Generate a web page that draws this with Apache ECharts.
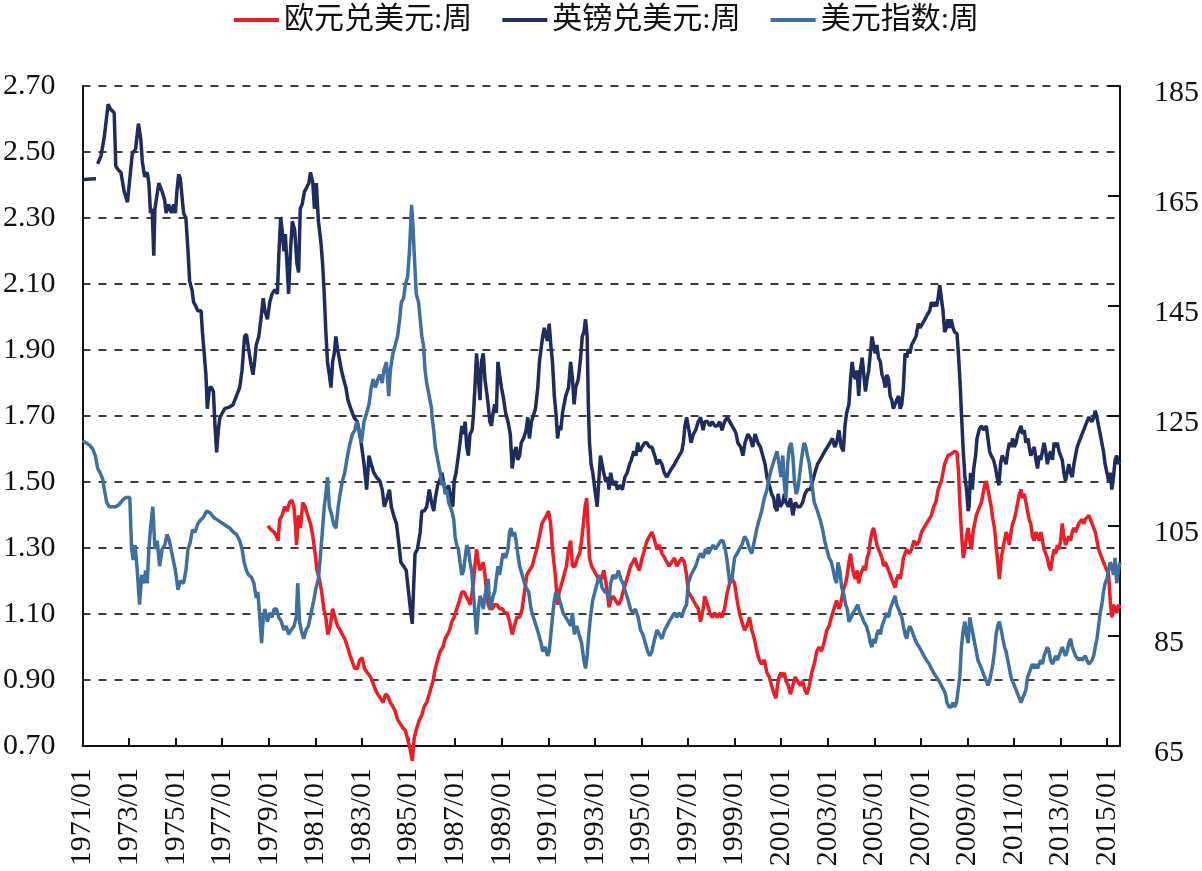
<!DOCTYPE html>
<html>
<head>
<meta charset="utf-8">
<title>欧元、英镑兑美元与美元指数</title>
<script src="https://cdn.jsdelivr.net/npm/echarts@6/dist/echarts.min.js"></script>
<style>
    html, body { margin: 0; padding: 0; background: #fff; }
    #chart { width: 1202px; height: 871px; }
</style>
</head>
<body>
<div id="chart"></div>
<script>
// 周度数据, 按图读取 [年份(小数), 数值]
const eurWeekly = [
    [1978.96,1.367],[1979.11,1.354],[1979.23,1.348],[1979.33,1.335],[1979.40,1.322],[1979.47,1.387],[1979.57,1.399],[1979.68,1.425],
    [1979.79,1.412],[1979.89,1.438],[1979.99,1.445],[1980.08,1.425],[1980.14,1.374],[1980.19,1.309],[1980.28,1.399],[1980.36,1.361],
    [1980.46,1.438],[1980.56,1.425],[1980.67,1.399],[1980.79,1.374],[1980.89,1.335],[1980.99,1.283],[1981.07,1.232],[1981.17,1.206],
    [1981.27,1.167],[1981.36,1.116],[1981.45,1.090],[1981.53,1.038],[1981.64,1.064],[1981.74,1.116],[1981.84,1.090],[1981.95,1.064],
    [1982.06,1.051],[1982.16,1.038],[1982.26,1.025],[1982.38,1.000],[1982.49,0.974],[1982.59,0.954],[1982.69,0.935],[1982.80,0.935],
    [1982.91,0.961],[1983.01,0.967],[1983.11,0.935],[1983.23,0.922],[1983.37,0.909],[1983.48,0.890],[1983.58,0.870],[1983.68,0.857],
    [1983.79,0.845],[1983.91,0.832],[1984.01,0.857],[1984.11,0.851],[1984.22,0.832],[1984.33,0.819],[1984.43,0.806],[1984.53,0.780],
    [1984.65,0.767],[1984.76,0.754],[1984.86,0.748],[1984.96,0.722],[1985.07,0.690],[1985.16,0.655],[1985.24,0.722],[1985.35,0.754],
    [1985.47,0.780],[1985.57,0.793],[1985.67,0.819],[1985.78,0.832],[1985.89,0.857],[1985.96,0.875],[1986.05,0.896],[1986.15,0.935],
    [1986.25,0.961],[1986.36,0.987],[1986.48,1.000],[1986.57,1.025],[1986.68,1.038],[1986.76,1.051],[1986.86,1.077],[1986.96,1.090],
    [1987.07,1.116],[1987.19,1.141],[1987.29,1.167],[1987.39,1.167],[1987.47,1.154],[1987.57,1.141],[1987.64,1.128],[1987.71,1.154],
    [1987.78,1.193],[1987.85,1.245],[1987.92,1.296],[1988.00,1.257],[1988.07,1.232],[1988.13,1.245],[1988.21,1.257],[1988.28,1.219],
    [1988.35,1.167],[1988.42,1.128],[1988.49,1.116],[1988.60,1.116],[1988.70,1.128],[1988.80,1.128],[1988.91,1.116],[1989.03,1.116],
    [1989.13,1.103],[1989.23,1.103],[1989.34,1.077],[1989.45,1.038],[1989.55,1.064],[1989.65,1.090],[1989.77,1.090],[1989.88,1.116],
    [1989.98,1.167],[1990.08,1.219],[1990.19,1.232],[1990.31,1.245],[1990.40,1.270],[1990.50,1.296],[1990.62,1.335],[1990.73,1.374],
    [1990.83,1.387],[1990.93,1.399],[1991.01,1.412],[1991.10,1.374],[1991.18,1.296],[1991.30,1.219],[1991.40,1.128],[1991.47,1.167],
    [1991.58,1.193],[1991.68,1.219],[1991.78,1.245],[1991.87,1.296],[1991.96,1.322],[1992.04,1.245],[1992.15,1.245],[1992.25,1.270],
    [1992.35,1.283],[1992.43,1.322],[1992.51,1.374],[1992.58,1.425],[1992.65,1.451],[1992.72,1.348],[1992.77,1.270],[1992.86,1.245],
    [1992.96,1.232],[1993.06,1.219],[1993.17,1.206],[1993.29,1.206],[1993.38,1.232],[1993.47,1.200],[1993.54,1.160],[1993.61,1.120],
    [1993.68,1.141],[1993.78,1.154],[1993.89,1.141],[1994.01,1.128],[1994.11,1.141],[1994.21,1.167],[1994.32,1.193],[1994.43,1.219],
    [1994.53,1.245],[1994.63,1.257],[1994.72,1.270],[1994.82,1.245],[1994.91,1.232],[1995.03,1.270],[1995.14,1.296],[1995.24,1.322],
    [1995.34,1.335],[1995.45,1.348],[1995.57,1.322],[1995.67,1.296],[1995.77,1.309],[1995.88,1.283],[1996.00,1.270],[1996.09,1.257],
    [1996.19,1.245],[1996.30,1.257],[1996.42,1.270],[1996.52,1.245],[1996.62,1.257],[1996.73,1.270],[1996.84,1.257],[1996.94,1.219],
    [1997.01,1.167],[1997.13,1.154],[1997.23,1.141],[1997.33,1.128],[1997.44,1.116],[1997.54,1.077],[1997.65,1.116],[1997.72,1.154],
    [1997.84,1.128],[1997.94,1.103],[1998.04,1.090],[1998.15,1.103],[1998.26,1.090],[1998.36,1.103],[1998.46,1.090],[1998.57,1.116],
    [1998.69,1.167],[1998.79,1.193],[1998.89,1.206],[1999.00,1.193],[1999.11,1.141],[1999.21,1.103],[1999.31,1.077],[1999.43,1.051],
    [1999.54,1.064],[1999.64,1.090],[1999.74,1.051],[1999.85,1.025],[1999.96,0.987],[2000.06,0.961],[2000.16,0.948],[2000.28,0.961],
    [2000.39,0.922],[2000.49,0.909],[2000.59,0.883],[2000.70,0.857],[2000.78,0.845],[2000.84,0.883],[2000.91,0.909],[2000.99,0.922],
    [2001.07,0.909],[2001.14,0.922],[2001.21,0.896],[2001.31,0.883],[2001.40,0.857],[2001.50,0.883],[2001.60,0.909],[2001.71,0.896],
    [2001.82,0.883],[2001.92,0.896],[2002.02,0.870],[2002.11,0.857],[2002.21,0.883],[2002.31,0.922],[2002.42,0.948],[2002.53,0.987],
    [2002.63,1.000],[2002.73,0.987],[2002.84,1.012],[2002.96,1.051],[2003.06,1.064],[2003.16,1.090],[2003.27,1.116],[2003.38,1.141],
    [2003.48,1.116],[2003.55,1.128],[2003.62,1.154],[2003.70,1.180],[2003.77,1.193],[2003.84,1.219],[2003.91,1.257],[2003.98,1.283],
    [2004.05,1.245],[2004.12,1.219],[2004.19,1.206],[2004.26,1.232],[2004.33,1.193],[2004.40,1.219],[2004.48,1.232],[2004.55,1.245],
    [2004.62,1.232],[2004.69,1.270],[2004.76,1.283],[2004.83,1.322],[2004.90,1.348],[2004.97,1.361],[2005.04,1.335],[2005.11,1.309],
    [2005.18,1.296],[2005.26,1.283],[2005.33,1.270],[2005.40,1.245],[2005.47,1.257],[2005.54,1.245],[2005.61,1.232],[2005.68,1.219],
    [2005.75,1.206],[2005.82,1.193],[2005.89,1.180],[2005.96,1.206],[2006.04,1.219],[2006.11,1.206],[2006.18,1.232],[2006.25,1.270],
    [2006.32,1.283],[2006.39,1.296],[2006.50,1.283],[2006.60,1.296],[2006.70,1.322],[2006.82,1.309],[2006.93,1.322],[2007.03,1.348],
    [2007.13,1.361],[2007.24,1.374],[2007.36,1.387],[2007.45,1.399],[2007.55,1.425],[2007.64,1.438],[2007.74,1.477],[2007.81,1.477],
    [2007.88,1.503],[2007.95,1.528],[2008.02,1.554],[2008.09,1.567],[2008.16,1.580],[2008.30,1.585],[2008.45,1.593],[2008.55,1.590],
    [2008.62,1.528],[2008.67,1.438],[2008.74,1.348],[2008.82,1.270],[2008.89,1.296],[2008.96,1.335],[2009.03,1.361],[2009.10,1.322],
    [2009.17,1.296],[2009.24,1.348],[2009.31,1.374],[2009.38,1.399],[2009.45,1.412],[2009.52,1.425],[2009.60,1.438],[2009.67,1.464],
    [2009.74,1.490],[2009.81,1.503],[2009.88,1.477],[2009.95,1.451],[2010.02,1.425],[2010.09,1.387],[2010.16,1.361],[2010.23,1.309],
    [2010.30,1.257],[2010.37,1.206],[2010.45,1.270],[2010.52,1.296],[2010.59,1.322],[2010.66,1.348],[2010.73,1.335],[2010.80,1.309],
    [2010.87,1.348],[2010.94,1.374],[2011.01,1.387],[2011.09,1.412],[2011.16,1.438],[2011.23,1.464],[2011.30,1.477],[2011.37,1.451],
    [2011.44,1.464],[2011.51,1.438],[2011.58,1.412],[2011.65,1.387],[2011.72,1.374],[2011.79,1.335],[2011.87,1.322],[2011.94,1.348],
    [2012.01,1.335],[2012.08,1.322],[2012.15,1.348],[2012.22,1.322],[2012.29,1.296],[2012.36,1.283],[2012.43,1.270],[2012.50,1.245],
    [2012.57,1.232],[2012.65,1.270],[2012.72,1.296],[2012.79,1.283],[2012.86,1.309],[2012.93,1.296],[2013.00,1.322],[2013.07,1.374],
    [2013.14,1.335],[2013.21,1.309],[2013.28,1.322],[2013.35,1.335],[2013.43,1.322],[2013.50,1.348],[2013.57,1.361],[2013.64,1.348],
    [2013.71,1.361],[2013.78,1.374],[2013.85,1.374],[2013.92,1.387],[2013.99,1.374],[2014.06,1.387],[2014.13,1.393],[2014.21,1.399],
    [2014.28,1.387],[2014.35,1.374],[2014.42,1.361],[2014.49,1.348],[2014.56,1.322],[2014.63,1.296],[2014.70,1.283],[2014.77,1.270],
    [2014.84,1.257],[2014.91,1.245],[2014.99,1.232],[2015.06,1.219],[2015.13,1.141],[2015.20,1.090],[2015.27,1.128],[2015.34,1.116],
    [2015.41,1.103],[2015.48,1.128],[2015.55,1.116]
];

const gbpWeekly = [
    [1971.00,2.416],[1971.30,2.418],[1971.58,2.419],[1971.62,null],[1971.65,2.464],[1971.80,2.490],[1971.94,2.548],[1972.10,2.645],
    [1972.20,2.630],[1972.36,2.619],[1972.43,2.457],[1972.55,2.445],[1972.65,2.438],[1972.79,2.380],[1972.93,2.348],[1973.00,2.354],
    [1973.14,2.496],[1973.28,2.509],[1973.40,2.586],[1973.50,2.541],[1973.57,2.470],[1973.67,2.425],[1973.78,2.438],[1973.85,2.406],
    [1973.92,2.315],[1973.99,2.328],[1974.06,2.186],[1974.11,2.328],[1974.16,2.328],[1974.28,2.406],[1974.35,2.393],[1974.42,2.380],
    [1974.53,2.354],[1974.59,2.315],[1974.70,2.341],[1974.82,2.315],[1974.91,2.341],[1974.99,2.315],[1975.06,2.386],[1975.13,2.432],
    [1975.20,2.419],[1975.27,2.367],[1975.34,2.315],[1975.44,2.300],[1975.53,2.200],[1975.60,2.109],[1975.70,2.083],[1975.77,2.045],
    [1975.87,2.032],[1975.95,2.019],[1976.09,2.019],[1976.15,1.954],[1976.24,1.877],[1976.30,1.825],[1976.36,1.722],[1976.45,1.786],
    [1976.55,1.786],[1976.62,1.774],[1976.69,1.670],[1976.76,1.590],[1976.83,1.657],[1976.90,1.696],[1977.00,1.709],[1977.11,1.722],
    [1977.33,1.728],[1977.47,1.735],[1977.61,1.761],[1977.75,1.786],[1977.85,1.838],[1977.96,1.941],[1978.04,1.948],[1978.13,1.903],
    [1978.22,1.864],[1978.32,1.825],[1978.39,1.864],[1978.46,1.915],[1978.57,1.941],[1978.66,1.993],[1978.76,2.057],[1978.83,2.019],
    [1978.94,1.993],[1979.04,2.045],[1979.14,2.070],[1979.26,2.083],[1979.37,2.070],[1979.43,2.186],[1979.51,2.303],[1979.57,2.264],
    [1979.65,2.199],[1979.71,2.251],[1979.77,2.174],[1979.85,2.070],[1979.94,2.212],[1980.01,2.290],[1980.11,2.264],[1980.21,2.161],
    [1980.28,2.135],[1980.35,2.328],[1980.43,2.341],[1980.53,2.380],[1980.63,2.393],[1980.72,2.406],[1980.79,2.438],[1980.89,2.406],
    [1980.96,2.328],[1981.04,2.406],[1981.13,2.290],[1981.24,2.225],[1981.31,2.161],[1981.38,2.070],[1981.45,1.954],[1981.52,1.864],
    [1981.60,1.825],[1981.67,1.786],[1981.74,1.864],[1981.81,1.890],[1981.88,1.941],[1981.95,1.903],[1982.02,1.877],[1982.12,1.838],
    [1982.21,1.812],[1982.31,1.786],[1982.40,1.748],[1982.52,1.722],[1982.66,1.696],[1982.80,1.683],[1982.94,1.632],[1983.09,1.554],
    [1983.20,1.477],[1983.30,1.580],[1983.40,1.554],[1983.51,1.528],[1983.62,1.515],[1983.77,1.503],[1983.87,1.477],[1983.96,1.425],
    [1984.08,1.451],[1984.18,1.477],[1984.26,1.425],[1984.36,1.399],[1984.48,1.374],[1984.57,1.322],[1984.67,1.257],[1984.79,1.245],
    [1984.90,1.232],[1985.00,1.167],[1985.10,1.103],[1985.16,1.070],[1985.21,1.167],[1985.28,1.283],[1985.38,1.296],[1985.50,1.348],
    [1985.57,1.412],[1985.67,1.412],[1985.78,1.425],[1985.89,1.477],[1985.99,1.438],[1986.08,1.412],[1986.15,1.451],[1986.25,1.490],
    [1986.33,1.503],[1986.43,1.528],[1986.53,1.490],[1986.62,1.464],[1986.72,1.490],[1986.82,1.451],[1986.90,1.425],[1986.96,1.503],
    [1987.04,1.528],[1987.14,1.580],[1987.21,1.619],[1987.29,1.670],[1987.36,1.645],[1987.43,1.683],[1987.50,1.606],[1987.57,1.580],
    [1987.64,1.645],[1987.73,1.657],[1987.78,1.696],[1987.85,1.786],[1987.92,1.890],[1988.00,1.812],[1988.07,1.748],[1988.13,1.864],
    [1988.21,1.890],[1988.28,1.812],[1988.35,1.774],[1988.42,1.735],[1988.49,1.683],[1988.56,1.670],[1988.63,1.709],[1988.70,1.735],
    [1988.77,1.709],[1988.84,1.864],[1988.91,1.825],[1988.99,1.786],[1989.06,1.761],[1989.17,1.709],[1989.27,1.683],[1989.37,1.645],
    [1989.45,1.541],[1989.55,1.593],[1989.62,1.606],[1989.69,1.567],[1989.77,1.580],[1989.84,1.619],[1989.94,1.632],[1990.05,1.657],
    [1990.12,1.696],[1990.19,1.632],[1990.28,1.683],[1990.36,1.683],[1990.45,1.722],[1990.55,1.786],[1990.62,1.864],[1990.69,1.903],
    [1990.76,1.941],[1990.83,1.967],[1990.90,1.941],[1990.97,1.928],[1991.04,1.980],[1991.11,1.915],[1991.18,1.864],[1991.26,1.761],
    [1991.33,1.709],[1991.40,1.632],[1991.47,1.670],[1991.54,1.657],[1991.61,1.709],[1991.68,1.735],[1991.75,1.761],[1991.87,1.786],
    [1991.96,1.864],[1992.04,1.812],[1992.11,1.735],[1992.18,1.786],[1992.29,1.812],[1992.39,1.877],[1992.46,1.941],[1992.53,1.954],
    [1992.60,1.993],[1992.67,1.941],[1992.72,1.735],[1992.77,1.619],[1992.84,1.554],[1992.91,1.528],[1993.00,1.477],[1993.10,1.425],
    [1993.17,1.503],[1993.24,1.580],[1993.31,1.554],[1993.38,1.528],[1993.47,1.500],[1993.54,1.515],[1993.61,1.477],[1993.68,1.528],
    [1993.78,1.490],[1993.87,1.503],[1993.97,1.477],[1994.06,1.490],[1994.18,1.477],[1994.29,1.515],[1994.39,1.528],[1994.49,1.554],
    [1994.57,1.567],[1994.67,1.593],[1994.77,1.580],[1994.84,1.619],[1994.93,1.593],[1995.03,1.606],[1995.14,1.619],[1995.24,1.619],
    [1995.34,1.606],[1995.45,1.606],[1995.57,1.580],[1995.67,1.554],[1995.77,1.567],[1995.88,1.554],[1995.98,1.528],[1996.09,1.515],
    [1996.19,1.528],[1996.30,1.541],[1996.42,1.554],[1996.52,1.567],[1996.62,1.580],[1996.73,1.593],[1996.80,1.619],[1996.87,1.670],
    [1996.94,1.696],[1997.04,1.657],[1997.13,1.619],[1997.23,1.645],[1997.33,1.657],[1997.44,1.683],[1997.54,1.696],[1997.65,1.657],
    [1997.72,1.683],[1997.84,1.683],[1997.94,1.670],[1998.04,1.683],[1998.15,1.670],[1998.26,1.670],[1998.36,1.683],[1998.46,1.657],
    [1998.57,1.683],[1998.69,1.696],[1998.79,1.683],[1998.89,1.670],[1999.00,1.657],[1999.07,1.645],[1999.14,1.619],[1999.26,1.606],
    [1999.36,1.580],[1999.45,1.619],[1999.57,1.645],[1999.68,1.632],[1999.78,1.606],[1999.88,1.645],[2000.00,1.619],[2000.11,1.606],
    [2000.21,1.580],[2000.31,1.554],[2000.39,1.515],[2000.49,1.490],[2000.59,1.464],[2000.68,1.451],[2000.73,1.425],[2000.82,1.412],
    [2000.87,1.464],[2000.96,1.425],[2001.07,1.438],[2001.14,1.464],[2001.21,1.438],[2001.31,1.425],[2001.40,1.451],[2001.50,1.399],
    [2001.60,1.438],[2001.71,1.425],[2001.82,1.425],[2001.92,1.438],[2002.02,1.464],[2002.13,1.477],[2002.25,1.477],[2002.35,1.503],
    [2002.45,1.528],[2002.56,1.554],[2002.67,1.567],[2002.77,1.580],[2002.87,1.593],[2002.99,1.606],[2003.10,1.619],[2003.20,1.632],
    [2003.30,1.606],[2003.38,1.619],[2003.48,1.657],[2003.58,1.606],[2003.67,1.593],[2003.74,1.670],[2003.81,1.709],[2003.91,1.735],
    [2003.98,1.812],[2004.05,1.864],[2004.12,1.825],[2004.19,1.812],[2004.26,1.838],[2004.33,1.761],[2004.40,1.838],[2004.48,1.877],
    [2004.55,1.825],[2004.62,1.774],[2004.69,1.812],[2004.76,1.838],[2004.83,1.890],[2004.90,1.941],[2004.97,1.915],[2005.04,1.890],
    [2005.11,1.915],[2005.18,1.877],[2005.26,1.864],[2005.33,1.825],[2005.40,1.812],[2005.47,1.786],[2005.54,1.825],[2005.61,1.812],
    [2005.68,1.761],[2005.75,1.748],[2005.82,1.722],[2005.89,1.735],[2005.96,1.748],[2006.04,1.761],[2006.11,1.722],[2006.18,1.735],
    [2006.25,1.786],[2006.32,1.890],[2006.39,1.877],[2006.46,1.903],[2006.53,1.890],[2006.60,1.915],[2006.67,1.915],[2006.79,1.941],
    [2006.89,1.980],[2006.96,1.967],[2007.07,1.980],[2007.17,1.993],[2007.27,2.006],[2007.38,2.019],[2007.45,2.045],[2007.52,2.032],
    [2007.60,2.045],[2007.67,2.032],[2007.74,2.057],[2007.81,2.096],[2007.88,2.057],[2007.95,2.019],[2008.02,1.954],[2008.09,1.967],
    [2008.16,1.993],[2008.23,1.967],[2008.30,1.993],[2008.38,1.967],[2008.45,1.954],[2008.55,1.950],[2008.62,1.880],[2008.69,1.790],
    [2008.74,1.709],[2008.82,1.593],[2008.89,1.515],[2008.96,1.477],[2009.03,1.412],[2009.07,1.425],[2009.13,1.528],[2009.21,1.477],
    [2009.27,1.541],[2009.35,1.580],[2009.41,1.632],[2009.50,1.657],[2009.60,1.670],[2009.70,1.657],[2009.81,1.670],[2009.88,1.632],
    [2009.95,1.593],[2010.02,1.580],[2010.12,1.567],[2010.21,1.541],[2010.27,1.515],[2010.35,1.490],[2010.42,1.554],[2010.49,1.580],
    [2010.59,1.567],[2010.66,1.554],[2010.73,1.593],[2010.80,1.619],[2010.87,1.606],[2010.94,1.632],[2011.01,1.606],[2011.09,1.619],
    [2011.16,1.645],[2011.23,1.657],[2011.30,1.670],[2011.37,1.645],[2011.44,1.657],[2011.51,1.619],[2011.60,1.632],[2011.65,1.606],
    [2011.72,1.580],[2011.79,1.593],[2011.87,1.606],[2011.94,1.567],[2012.01,1.541],[2012.08,1.580],[2012.15,1.567],[2012.22,1.593],
    [2012.29,1.619],[2012.36,1.593],[2012.43,1.554],[2012.50,1.580],[2012.57,1.593],[2012.65,1.567],[2012.72,1.619],[2012.79,1.606],
    [2012.86,1.619],[2012.93,1.593],[2013.00,1.580],[2013.07,1.567],[2013.14,1.528],[2013.21,1.503],[2013.28,1.528],[2013.35,1.554],
    [2013.43,1.528],[2013.50,1.515],[2013.57,1.554],[2013.64,1.580],[2013.71,1.606],[2013.78,1.619],[2013.85,1.632],[2013.92,1.645],
    [2013.99,1.657],[2014.06,1.670],[2014.13,1.683],[2014.21,1.696],[2014.35,1.683],[2014.42,1.696],[2014.49,1.716],[2014.56,1.696],
    [2014.63,1.670],[2014.70,1.645],[2014.77,1.619],[2014.84,1.593],[2014.91,1.554],[2014.99,1.528],[2015.06,1.503],[2015.13,1.528],
    [2015.20,1.477],[2015.27,1.515],[2015.34,1.567],[2015.41,1.580],[2015.48,1.554],[2015.55,1.567]
];

const dxyWeekly = [
    [1971.00,120.5],[1971.16,120.1],[1971.30,119.7],[1971.44,119.0],[1971.55,117.8],[1971.65,115.5],[1971.75,114.7],[1971.87,113.5],
    [1971.94,111.6],[1972.04,109.3],[1972.15,108.5],[1972.29,108.5],[1972.43,108.5],[1972.57,108.9],[1972.72,109.7],[1972.86,110.2],
    [1973.03,110.2],[1973.11,100.8],[1973.18,98.8],[1973.26,101.5],[1973.35,96.9],[1973.45,90.7],[1973.54,96.1],[1973.64,94.6],
    [1973.71,96.9],[1973.78,94.6],[1973.85,100.8],[1973.92,104.6],[1974.02,108.5],[1974.11,100.8],[1974.21,102.3],[1974.31,97.7],
    [1974.42,100.8],[1974.53,101.5],[1974.63,103.5],[1974.73,102.3],[1974.84,100.0],[1974.99,96.9],[1975.10,93.4],[1975.20,95.0],
    [1975.34,94.6],[1975.44,96.9],[1975.53,100.8],[1975.62,101.9],[1975.72,104.3],[1975.84,103.9],[1975.95,105.4],[1976.09,106.2],
    [1976.19,106.6],[1976.33,107.7],[1976.48,107.4],[1976.62,106.6],[1976.76,106.2],[1976.90,105.8],[1977.04,105.4],[1977.18,105.0],
    [1977.33,104.6],[1977.47,103.9],[1977.61,103.5],[1977.75,102.3],[1977.85,100.8],[1977.94,98.4],[1978.04,96.9],[1978.13,96.1],
    [1978.25,95.7],[1978.36,94.6],[1978.46,91.9],[1978.53,93.0],[1978.60,89.2],[1978.69,83.7],[1978.76,88.4],[1978.83,89.9],
    [1978.94,87.6],[1979.04,89.2],[1979.14,88.4],[1979.23,89.9],[1979.33,89.9],[1979.43,88.4],[1979.54,87.6],[1979.65,86.1],
    [1979.75,86.8],[1979.85,85.3],[1979.96,86.1],[1980.08,86.8],[1980.18,88.4],[1980.24,94.6],[1980.32,87.6],[1980.39,86.1],
    [1980.50,84.5],[1980.60,86.1],[1980.70,86.8],[1980.82,89.2],[1980.93,91.5],[1981.03,93.8],[1981.13,95.4],[1981.24,100.8],
    [1981.31,104.6],[1981.38,108.5],[1981.45,110.8],[1981.52,113.9],[1981.60,108.5],[1981.70,107.0],[1981.78,105.4],[1981.88,104.6],
    [1981.98,108.5],[1982.06,110.8],[1982.16,113.2],[1982.26,114.7],[1982.38,117.8],[1982.49,120.1],[1982.59,121.7],[1982.69,122.4],
    [1982.78,124.0],[1982.87,122.4],[1982.97,120.1],[1983.09,124.0],[1983.20,125.5],[1983.30,127.1],[1983.40,130.2],[1983.48,131.7],
    [1983.58,130.2],[1983.68,131.7],[1983.77,132.5],[1983.87,131.0],[1983.94,133.3],[1984.05,134.8],[1984.15,128.6],[1984.22,133.3],
    [1984.33,136.4],[1984.43,137.9],[1984.53,139.5],[1984.62,142.6],[1984.69,145.7],[1984.79,146.4],[1984.86,148.8],[1984.96,150.3],
    [1985.04,155.0],[1985.13,163.4],[1985.19,159.6],[1985.24,155.0],[1985.33,147.2],[1985.43,145.7],[1985.50,142.6],[1985.57,139.5],
    [1985.64,137.9],[1985.71,133.3],[1985.78,131.0],[1985.89,128.6],[1985.99,126.3],[1986.01,124.8],[1986.08,122.4],[1986.15,119.3],
    [1986.22,117.8],[1986.29,116.2],[1986.36,114.7],[1986.43,112.4],[1986.50,113.2],[1986.57,110.8],[1986.65,111.6],[1986.72,109.3],
    [1986.79,108.5],[1986.86,107.7],[1986.94,106.2],[1987.00,103.1],[1987.07,101.5],[1987.14,100.8],[1987.21,98.4],[1987.29,96.1],
    [1987.36,96.9],[1987.43,99.2],[1987.50,101.5],[1987.57,100.8],[1987.64,98.4],[1987.71,96.9],[1987.78,93.0],[1987.85,89.2],
    [1987.92,85.3],[1988.00,89.9],[1988.07,92.3],[1988.13,91.5],[1988.21,89.9],[1988.28,92.3],[1988.35,93.8],[1988.42,95.4],
    [1988.49,89.9],[1988.56,90.7],[1988.63,92.3],[1988.70,93.0],[1988.77,95.4],[1988.84,97.7],[1988.91,96.1],[1988.99,98.4],
    [1989.06,100.0],[1989.17,99.2],[1989.27,100.8],[1989.34,103.9],[1989.40,104.6],[1989.48,103.1],[1989.55,103.9],[1989.62,102.3],
    [1989.69,100.0],[1989.77,97.7],[1989.88,96.1],[1989.98,94.6],[1990.05,93.8],[1990.16,93.0],[1990.26,89.9],[1990.36,88.4],
    [1990.48,86.8],[1990.59,85.3],[1990.69,83.7],[1990.76,82.2],[1990.87,83.0],[1990.97,81.4],[1991.04,82.2],[1991.11,85.3],
    [1991.18,88.4],[1991.26,91.5],[1991.33,93.0],[1991.43,92.3],[1991.54,90.7],[1991.64,89.2],[1991.75,88.4],[1991.87,87.6],
    [1991.96,86.8],[1992.04,89.2],[1992.12,85.3],[1992.22,86.8],[1992.32,85.3],[1992.43,83.7],[1992.53,80.6],[1992.60,79.1],
    [1992.67,81.4],[1992.74,85.3],[1992.81,88.4],[1992.91,91.5],[1993.00,93.0],[1993.10,94.6],[1993.20,96.1],[1993.31,93.8],
    [1993.43,93.0],[1993.54,93.0],[1993.61,91.5],[1993.68,94.6],[1993.78,96.1],[1993.89,95.4],[1994.01,96.9],[1994.11,95.4],
    [1994.21,94.6],[1994.32,93.0],[1994.43,91.5],[1994.53,89.9],[1994.63,89.2],[1994.74,89.9],[1994.86,88.4],[1994.96,86.1],
    [1995.06,85.3],[1995.17,83.7],[1995.27,82.2],[1995.36,81.4],[1995.45,82.2],[1995.57,84.5],[1995.67,86.1],[1995.77,85.3],
    [1995.88,84.5],[1996.00,86.1],[1996.09,86.8],[1996.19,87.6],[1996.30,88.4],[1996.42,89.2],[1996.52,88.4],[1996.62,89.2],
    [1996.73,88.4],[1996.84,89.9],[1996.94,90.7],[1997.01,94.6],[1997.13,96.1],[1997.23,96.9],[1997.33,97.7],[1997.44,99.2],
    [1997.54,100.0],[1997.65,99.2],[1997.75,100.8],[1997.87,100.0],[1997.98,100.8],[1998.08,101.5],[1998.18,100.8],[1998.29,101.5],
    [1998.40,102.3],[1998.50,102.3],[1998.60,100.8],[1998.69,98.4],[1998.79,94.6],[1998.89,95.4],[1999.00,99.2],[1999.11,100.0],
    [1999.21,100.8],[1999.31,101.5],[1999.43,103.1],[1999.54,102.3],[1999.64,100.8],[1999.74,100.0],[1999.85,102.3],[1999.96,104.6],
    [2000.06,106.2],[2000.16,107.7],[2000.28,110.1],[2000.39,111.6],[2000.49,113.9],[2000.59,115.5],[2000.70,117.0],[2000.82,118.6],
    [2000.91,116.3],[2000.99,113.9],[2001.07,117.8],[2001.14,112.4],[2001.21,110.1],[2001.28,116.3],[2001.35,119.3],[2001.43,120.1],
    [2001.50,117.8],[2001.57,113.2],[2001.64,110.8],[2001.71,111.6],[2001.78,113.9],[2001.85,116.3],[2001.92,118.6],[2001.99,120.1],
    [2002.06,119.3],[2002.13,117.8],[2002.21,116.3],[2002.28,113.9],[2002.35,111.6],[2002.42,109.3],[2002.49,108.5],[2002.56,107.7],
    [2002.67,106.2],[2002.77,104.6],[2002.87,102.3],[2002.96,100.8],[2003.06,99.2],[2003.16,98.4],[2003.24,96.9],[2003.31,95.4],
    [2003.38,94.6],[2003.44,98.4],[2003.52,96.9],[2003.60,93.8],[2003.67,93.0],[2003.77,90.7],[2003.84,89.9],[2003.91,87.6],
    [2004.01,88.4],[2004.09,89.2],[2004.19,89.9],[2004.29,90.7],[2004.38,89.2],[2004.48,88.4],[2004.55,87.6],[2004.66,86.8],
    [2004.76,85.3],[2004.83,83.7],[2004.90,83.0],[2004.97,84.5],[2005.04,83.7],[2005.11,85.3],[2005.18,86.1],[2005.26,85.3],
    [2005.33,86.8],[2005.40,87.6],[2005.47,88.4],[2005.54,89.2],[2005.61,88.4],[2005.68,89.9],[2005.75,90.7],[2005.82,91.5],
    [2005.89,92.3],[2005.96,90.7],[2006.04,89.9],[2006.11,89.2],[2006.18,88.4],[2006.25,86.8],[2006.32,85.3],[2006.39,84.5],
    [2006.46,86.1],[2006.53,86.8],[2006.60,86.1],[2006.67,85.3],[2006.74,84.5],[2006.82,83.7],[2006.93,83.0],[2007.03,82.2],
    [2007.13,81.4],[2007.24,80.6],[2007.36,79.9],[2007.45,79.1],[2007.55,78.3],[2007.67,77.5],[2007.78,76.8],[2007.88,76.0],
    [2007.98,75.2],[2008.06,74.4],[2008.12,72.9],[2008.21,72.1],[2008.30,72.1],[2008.38,72.9],[2008.45,72.1],[2008.53,72.9],
    [2008.60,75.2],[2008.67,77.5],[2008.74,83.0],[2008.82,86.1],[2008.89,87.6],[2008.96,85.3],[2009.03,83.7],[2009.10,88.4],
    [2009.17,86.8],[2009.24,85.3],[2009.31,83.7],[2009.38,82.2],[2009.45,80.6],[2009.52,79.9],[2009.60,79.1],[2009.67,78.3],
    [2009.74,77.5],[2009.81,76.8],[2009.88,76.0],[2009.95,76.8],[2010.02,78.3],[2010.09,79.9],[2010.16,82.2],[2010.23,85.3],
    [2010.30,86.8],[2010.37,87.6],[2010.45,86.1],[2010.52,84.5],[2010.59,83.0],[2010.66,82.2],[2010.73,80.6],[2010.80,79.1],
    [2010.87,77.5],[2010.94,76.8],[2011.01,76.0],[2011.09,75.2],[2011.16,74.4],[2011.23,73.7],[2011.30,72.9],[2011.37,73.7],
    [2011.44,74.4],[2011.51,75.2],[2011.58,77.5],[2011.65,78.3],[2011.72,79.1],[2011.79,79.9],[2011.87,79.1],[2011.94,79.9],
    [2012.01,79.1],[2012.08,79.9],[2012.15,80.6],[2012.22,79.9],[2012.29,81.4],[2012.36,82.2],[2012.43,83.0],[2012.50,82.2],
    [2012.57,80.6],[2012.65,79.9],[2012.72,80.6],[2012.79,81.4],[2012.86,80.6],[2012.93,81.4],[2013.00,82.2],[2013.07,83.0],
    [2013.14,82.2],[2013.21,81.4],[2013.28,82.2],[2013.35,83.7],[2013.43,84.5],[2013.50,83.0],[2013.57,82.2],[2013.64,81.4],
    [2013.71,81.4],[2013.78,80.6],[2013.85,81.0],[2013.92,80.6],[2013.99,80.6],[2014.06,81.4],[2014.13,80.6],[2014.21,79.9],
    [2014.28,79.9],[2014.35,80.6],[2014.42,81.4],[2014.49,83.0],[2014.56,84.5],[2014.63,86.8],[2014.70,89.2],[2014.77,90.7],
    [2014.84,93.0],[2014.91,94.6],[2014.99,95.4],[2015.06,96.9],[2015.13,98.4],[2015.20,97.7],[2015.27,96.1],[2015.34,99.2],
    [2015.41,94.6],[2015.48,96.9],[2015.55,98.4]
];

// 坐标轴刻度
const leftTicks = { min: 0.7, max: 2.7, step: 0.2 };
const rightTicks = { min: 65, max: 185, step: 20 };
const yearTicks = { min: 1971, max: 2015.55, step: 2 };

const seriesNames = ['欧元兑美元:周', '英镑兑美元:周', '美元指数:周'];
const seriesColors = ['#EE1D25', '#1F2C5E', '#3D70A0'];

const serif = '"Liberation Serif", "Times New Roman", serif';
const cjk = '"Liberation Serif", "Noto Sans CJK SC", serif';

const chart = echarts.init(document.getElementById('chart'), null, { renderer: 'canvas' });

const option = {
    animation: false,
    backgroundColor: '#fff',
    color: seriesColors,
    legend: {
        top: 0,
        left: 229,
        icon: 'rect',
        itemWidth: 45,
        itemHeight: 4,
        itemGap: 30,
        textStyle: {
            fontFamily: cjk,
            fontSize: 30,
            color: '#111'
        },
        data: seriesNames
    },
    grid: {
        left: 81,
        right: 74,
        top: 86,
        bottom: 125
    },
    xAxis: {
        type: 'value',
        min: yearTicks.min,
        max: yearTicks.max,
        interval: yearTicks.step,
        axisLine: { lineStyle: { color: '#111', width: 2 } },
        axisTick: { inside: true, length: 8, lineStyle: { color: '#111', width: 2 } },
        splitLine: { show: false },
        axisLabel: {
            rotate: 90,
            margin: 22,
            fontFamily: serif,
            fontSize: 30,
            color: '#111',
            showMaxLabel: false,
            formatter: v => (Math.abs(v - Math.round(v)) < 1e-6 ? Math.round(v) + '/01' : '')
        }
    },
    yAxis: [
        {
            type: 'value',
            position: 'left',
            min: leftTicks.min,
            max: leftTicks.max,
            interval: leftTicks.step,
            axisLine: { show: true, lineStyle: { color: '#111', width: 2 } },
            axisTick: { show: false },
            splitLine: { lineStyle: { color: '#111', width: 1.6, type: [8, 8] } },
            axisLabel: {
                margin: 27,
                fontFamily: serif,
                fontSize: 30,
                color: '#111',
                formatter: v => v.toFixed(2)
            }
        },
        {
            type: 'value',
            position: 'right',
            min: rightTicks.min,
            max: rightTicks.max,
            interval: rightTicks.step,
            axisLine: { show: true, lineStyle: { color: '#111', width: 2 } },
            axisTick: { show: true, inside: true, length: 12, lineStyle: { color: '#111', width: 2 } },
            splitLine: { show: false },
            axisLabel: {
                margin: 34,
                formatter: v => '{r|' + v + '}',
                rich: {
                    // 右轴数字略低于刻度
                    r: {
                        fontFamily: serif,
                        fontSize: 30,
                        color: '#111',
                        padding: [14, 0, 0, 0]
                    }
                }
            }
        }
    ],
    series: [
        {
            name: seriesNames[0],
            type: 'line',
            yAxisIndex: 0,
            showSymbol: false,
            symbol: 'none',
            clip: false,
            lineStyle: { width: 3.5, color: seriesColors[0] },
            data: eurWeekly
        },
        {
            name: seriesNames[1],
            type: 'line',
            yAxisIndex: 0,
            showSymbol: false,
            symbol: 'none',
            lineStyle: { width: 3.5, color: seriesColors[1] },
            data: gbpWeekly
        },
        {
            name: seriesNames[2],
            type: 'line',
            yAxisIndex: 1,
            showSymbol: false,
            symbol: 'none',
            lineStyle: { width: 3.5, color: seriesColors[2] },
            data: dxyWeekly
        }
    ]
};

chart.setOption(option);
</script>
</body>
</html>
